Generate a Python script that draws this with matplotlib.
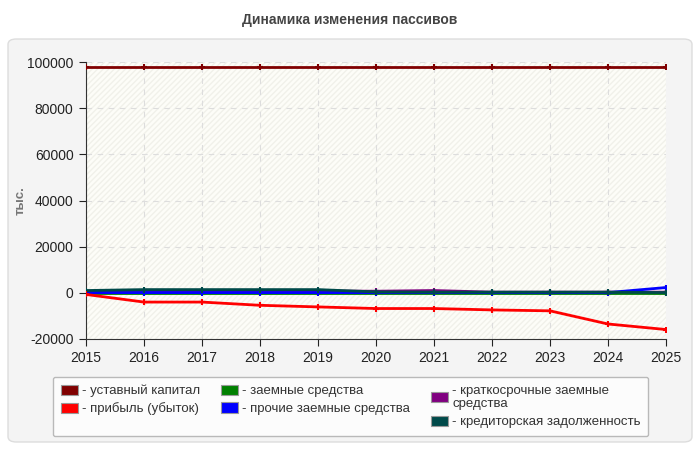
import matplotlib
matplotlib.use("Agg")
import matplotlib.pyplot as plt
from matplotlib.patches import FancyBboxPatch, Patch, Rectangle

plt.rcParams['font.family'] = ['Liberation Sans', 'DejaVu Sans']

years = [2015, 2016, 2017, 2018, 2019, 2020, 2021, 2022, 2023, 2024, 2025]
ustavny = [97900] * 11
pribyl = [-700, -4000, -4000, -5400, -6100, -6800, -6800, -7400, -7800, -13500, -15900]
zaemnye = [0] * 11
prochie = [100, 100, 100, 100, 100, 100, 100, 100, 100, 100, 2300]
kratkosroch = [400, 500, 600, 700, 800, 700, 1000, 300, 300, 300, 300]
kreditor = [1000, 1400, 1400, 1400, 1400, 400, 300, 300, 300, 300, 100]

series = [
    ("- уставный капитал", ustavny, "#800000"),
    ("- прибыль (убыток)", pribyl, "#ff0000"),
    ("- заемные средства", zaemnye, "#008000"),
    ("- прочие заемные средства", prochie, "#0000ff"),
    ("- краткосрочные заемные\nсредства", kratkosroch, "#800080"),
    ("- кредиторская задолженность", kreditor, "#004a4a"),
]
yticks = [-20000, 0, 20000, 40000, 60000, 80000, 100000]

W, H = 700, 450
fig = plt.figure(figsize=(7, 4.5), dpi=100)
fig.patch.set_facecolor("white")

panel = FancyBboxPatch((8 / W, 8 / H), 684 / W, 403 / H,
                       boxstyle="round,pad=0,rounding_size=0.012",
                       transform=fig.transFigure, facecolor="#f4f4f4",
                       edgecolor="#dddddd", linewidth=1, zorder=-10)
fig.patches.append(panel)

fig.text(0.5, 1 - 20 / H, "Динамика изменения пассивов", ha="center", va="center",
         fontsize=10, fontweight="bold", color="#444444")

ax = fig.add_axes([86 / W, 1 - 339 / H, 580 / W, 277 / H])
ax.set_zorder(1)
ax.set_facecolor("#fdfdf8")
ax.add_patch(Rectangle((0, 0), 1, 1, transform=ax.transAxes, facecolor="none",
                       edgecolor="#f1f1ea", hatch="//////", linewidth=0, zorder=0))

order_draw = [4, 2, 3, 5, 1, 0]
for i in order_draw:
    label, vals, color = series[i]
    ax.plot(years, vals, color=color, linewidth=2, marker="+", markersize=4,
            markeredgewidth=1.5, zorder=3)

ax.set_xlim(2015, 2025)
ax.set_ylim(-20000, 100000)
ax.set_xticks(years)
ax.set_yticks(yticks)
ax.set_xticklabels([str(y) for y in years])
ax.set_yticklabels([str(v) for v in yticks])
ax.tick_params(axis="both", labelsize=10, colors="#222222", length=5, pad=4)
ax.grid(True, color="#dddddd", linestyle=(0, (5, 5)), linewidth=0.8)
for s in ["top", "right"]:
    ax.spines[s].set_visible(False)
for s in ["left", "bottom"]:
    ax.spines[s].set_color("#333333")
ax.set_ylabel("тыс.", fontsize=9.5, fontweight="bold", color="#777777")
ax.yaxis.set_label_coords((27 - 86) / 580, 0.5)

handles = [Patch(facecolor=c, edgecolor="#999999", linewidth=0.8) for _, _, c in series]
labels = [l for l, _, _ in series]
leg = fig.legend(handles, labels, ncol=3, loc="upper left",
                 bbox_to_anchor=(46 / W, 1 - 370 / H), fontsize=9.5,
                 frameon=True, fancybox=True, handlelength=1.3, handleheight=0.8,
                 handletextpad=0.3, columnspacing=1.6, labelspacing=0.4,
                 borderpad=0.6)
leg._legend_handle_box.align = "top"
leg.get_frame().set_edgecolor("#aaaaaa")
leg.get_frame().set_facecolor("white")
for t in leg.get_texts():
    t.set_color("#333333")
    t.set_linespacing(1.2)

fig.savefig("out.png", dpi=100)
